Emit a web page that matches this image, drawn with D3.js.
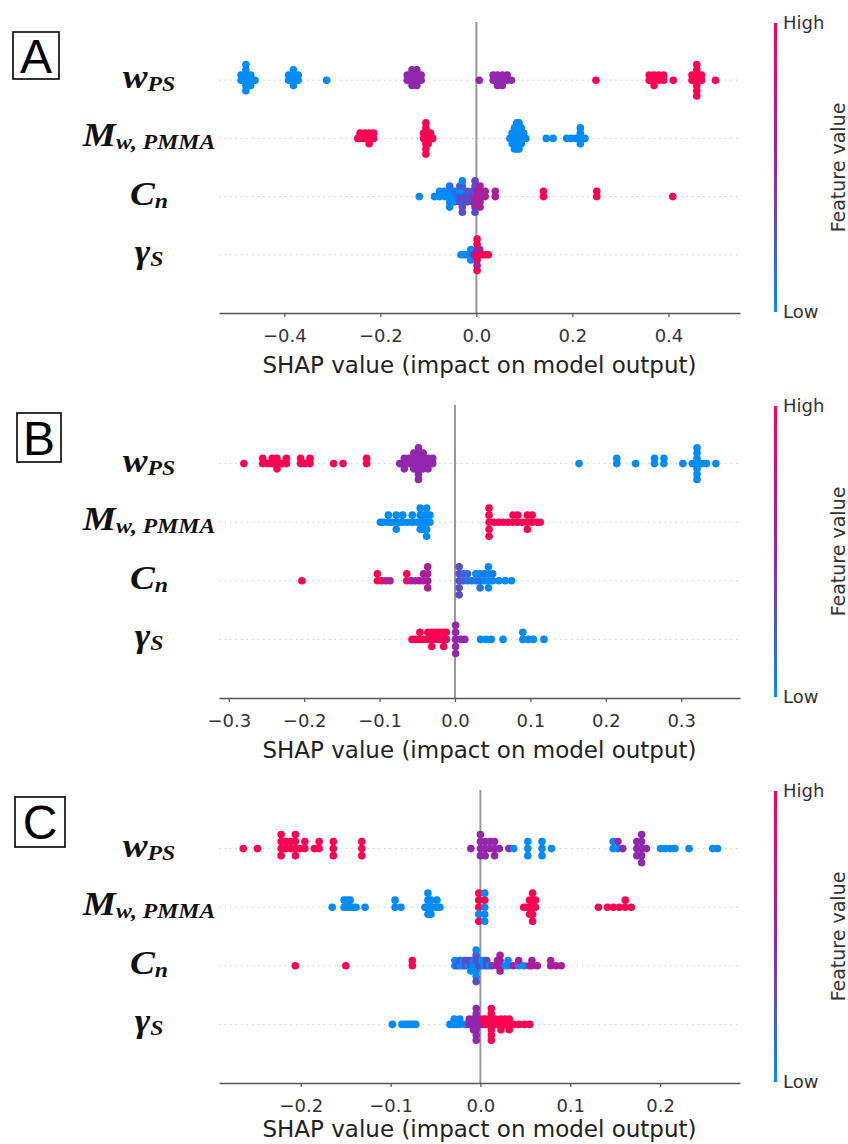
<!DOCTYPE html>
<html lang="en">
<head>
<meta charset="UTF-8">
<title>SHAP summary plots</title>
<script src="https://d3js.org/d3.v7.min.js"></script>
<style>
  body { margin: 0; background: #fff; }
  svg { display: block; }
</style>
</head>
<body>
<div id="chart"></div>
<script>
// feature labels: [main letter, subscript]
const features = [["w", "PS"], ["M", "w, PMMA"], ["C", "n"], ["\u03B3", "S"]];

const ticksA = [-0.4, -0.2, 0.0, 0.2, 0.4];
const ticksB = [-0.3, -0.2, -0.1, 0.0, 0.1, 0.2, 0.3];
const ticksC = [-0.2, -0.1, 0.0, 0.1, 0.2];
const domainA = [-0.536, 0.549];
const domainB = [-0.313, 0.378];
const domainC = [-0.291, 0.289];

// each point: [SHAP value, normalised feature value (0 low .. 1 high)]
// ---- panel A ----
const A_wps = [
  [-.490,0],[-.490,0],
  [-.480,0],[-.480,0],[-.480,0],[-.480,0],[-.480,0],[-.480,0],
  [-.470,0],[-.470,0],[-.470,0],[-.461,0],
  [-.391,0],[-.391,0],[-.381,0],[-.381,0],[-.381,0],[-.381,0],[-.371,0],[-.371,0],
  [-.312,0],
  [-.144,.5],[-.144,.5],[-.134,.5],[-.134,.5],[-.134,.5],[-.134,.5],
  [-.124,.5],[-.124,.5],[-.124,.5],[-.124,.5],[-.115,.5],[-.115,.5],
  [.006,.5],
  [.035,.5],[.035,.5],[.044,.5],[.044,.5],[.044,.5],[.054,.5],[.054,.5],[.054,.5],
  [.064,.5],[.064,.5],[.073,.5],
  [.249,1],
  [.360,1],[.360,1],[.370,1],[.370,1],[.370,1],[.380,1],[.380,1],[.390,1],[.390,1],[.410,1],
  [.449,1],[.449,1],[.459,1],[.459,1],[.459,1],[.459,1],[.459,1],[.459,1],[.459,1],
  [.469,1],[.469,1],[.498,1]
];
const A_mw = [
  [-.247,1],[-.2423,1],[-.2423,1],[-.2375,1],[-.2328,1],[-.2328,1],[-.2281,1],
  [-.2233,1],[-.2233,1],[-.2233,1],[-.2186,1],[-.2139,1],[-.2139,1],
  [-.1098,1],[-.1098,1],
  [-.1051,1],[-.1051,1],[-.1051,1],[-.1051,1],[-.1051,1],[-.1051,1],[-.1051,1],
  [-.1003,1],[-.1003,1],[-.1003,1],[-.0956,1],[-.0956,1],[-.0909,1],
  [.0699,0],[.0746,0],[.0746,0],[.0746,0],
  [.0794,0],[.0794,0],[.0794,0],[.0794,0],[.0794,0],
  [.0841,0],[.0841,0],[.0841,0],[.0841,0],[.0841,0],[.0841,0],
  [.0888,0],[.0888,0],[.0888,0],[.0888,0],[.0888,0],[.0888,0],
  [.0936,0],[.0936,0],[.0936,0],[.0936,0],[.0983,0],[.0983,0],[.1030,0],
  [.1456,0],[.1598,0],
  [.1882,0],[.1976,0],[.2071,0],[.2165,0],[.2165,0],[.2165,0],[.2165,0],[.226,0]
];
const A_cn = [
  [-.119,0],[-.0873,0],[-.0767,0],[-.0767,0],[-.0662,0],[-.0662,0],
  [-.0556,0],[-.0556,0],[-.0556,0],[-.0556,.1],[-.0556,0],
  [-.0451,0],[-.0451,.15],[-.0451,0],[-.0398,.1],
  [-.0345,.25],[-.0345,0],[-.0345,.3],[-.0345,.25],
  [-.0292,.3],[-.0292,0],[-.0292,.3],[-.0292,.25],[-.0292,.3],[-.0292,0],[-.0292,.3],
  [-.0239,.3],[-.0187,.3],[-.0187,.25],[-.0187,.3],[-.0134,.3],
  [-.0081,.35],[-.0081,.3],[-.0081,.35],
  [-.0028,.4],[-.0028,.3],[-.0028,.55],[-.0028,.3],[-.0028,.6],[-.0028,.35],[-.0028,.3],
  [.0024,.6],[.0024,.6],
  [.0077,.6],[.0077,.6],[.0077,.6],[.0077,.6],[.0077,.6],
  [.0130,.55],[.0183,.6],[.0183,.6],[.0394,.6],[.0394,.6],
  [.1398,1],[.1398,1],[.2507,1],[.2507,1],[.409,1]
];
const A_gs = [
  [-.032,0],[-.026,0],[-.020,0],[-.0115,0],[-.0115,0],[-.0115,0],[-.005,.5],
  [.0015,1],[.0015,.55],[.0015,1],[.0015,1],[.0015,.6],[.0015,1],[.0015,1],
  [.007,1],[.007,.6],[.013,1],[.019,1],[.025,1]
];

// ---- panel B ----
const B_wps = [
  [-.280,1],[-.2550,1],[-.2550,1],[-.2487,1],[-.2424,1],[-.2424,1],
  [-.2361,1],[-.2361,1],[-.2361,1],[-.2299,1],[-.2236,1],[-.2236,1],
  [-.2048,1],[-.2048,1],[-.1986,1],[-.1923,1],[-.1923,1],
  [-.1610,1],[-.1485,1],[-.1172,1],[-.1172,1],
  [-.0733,.5],[-.0672,.5],[-.0672,.5],[-.0672,.5],[-.0608,.5],[-.0608,.5],
  [-.0546,.5],[-.0546,.5],[-.0546,.5],[-.0546,.5],
  [-.0484,.5],[-.0484,.5],[-.0484,.5],[-.0484,.5],[-.0484,.5],[-.0484,.5],[-.0484,.5],
  [-.0421,.5],[-.0421,.5],[-.0421,.5],[-.0421,.5],
  [-.0358,.5],[-.0358,.5],[-.0358,.5],[-.0296,.5],[-.0296,.5],
  [.1645,0],[.2145,0],[.2145,0],[.2396,0],[.2646,0],[.2646,0],[.2771,0],[.2771,0],
  [.3022,0],[.3147,0],
  [.3210,0],[.3210,0],[.3210,0],[.3210,0],[.3210,0],[.3210,0],[.3210,0],
  [.3272,0],[.3335,0],[.346,0]
];
const B_mw = [
  [-.099,0],[-.0948,0],[-.0884,0],[-.0884,0],[-.0842,0],
  [-.0779,0],[-.0779,0],[-.0779,0],[-.0736,0],[-.0694,0],[-.0694,0],[-.0630,0],
  [-.0567,0],[-.0567,0],[-.0503,0],
  [-.0461,0],[-.0461,0],[-.0461,0],[-.0461,0],[-.0418,0],[-.0418,0],[-.0418,0],
  [-.0376,0],[-.0376,0],[-.0376,0],[-.0376,0],[-.0376,0],[-.0333,0],[-.0333,0],
  [.0452,1],[.0452,1],[.0452,1],[.0452,1],[.0452,1],
  [.0515,1],[.0579,1],[.0642,1],[.0706,1],[.0770,1],[.0770,1],[.0833,1],[.0833,1],
  [.0897,1],[.0960,1],[.0960,1],[.0960,1],[.1024,1],[.1024,1],[.1088,1],[.113,1]
];
const B_cn = [
  [-.203,1],[-.1029,1],[-.1029,1],[-.0974,1],[-.0918,.6],[-.0862,.6],
  [-.0640,1],[-.0640,1],[-.0584,.6],[-.0529,.6],[-.0473,.6],[-.0418,.6],[-.0418,.6],
  [-.0362,.6],[-.0362,.6],[-.0362,.6],[-.0362,.6],
  [.0055,.3],[.0055,.3],[.0055,.3],[.0055,.3],[.0055,.3],
  [.0111,.25],[.0111,.2],[.0166,.1],[.0166,.2],[.0222,.1],[.0277,.1],[.0277,0],
  [.0333,.15],[.0333,0],[.0333,.1],[.0389,0],[.0389,.1],
  [.0444,0],[.0444,0],[.0444,0],[.0444,0],[.0500,0],[.0500,.1],
  [.0583,0],[.0667,0],[.075,0]
];
const B_gs = [
  [-.0570,1],[-.0518,1],[-.0465,1],[-.0465,1],[-.0413,1],[-.0360,1],[-.0360,1],
  [-.0308,1],[-.0308,1],[-.0308,1],[-.0255,1],[-.0255,1],[-.0203,1],[-.0203,1],
  [-.0150,1],[-.0150,1],[-.0150,1],[-.0115,.85],[-.0115,1],
  [.0008,.5],[.0008,.5],[.0008,.5],[.0008,.5],[.0008,.5],[.0078,.5],[.0130,.5],
  [.0340,0],[.0410,0],[.0480,0],[.0638,0],[.0900,0],[.0900,0],[.0970,0],[.1040,0],[.1180,0]
];

// ---- panel C ----
const C_wps = [
  [-.2640,1],[-.2482,1],
  [-.2218,1],[-.2218,1],[-.2218,1],[-.2218,1],[-.2165,1],[-.2165,1],[-.2112,1],[-.2112,1],
  [-.2059,1],[-.2059,1],[-.2059,1],[-.2059,1],[-.2006,1],[-.1954,1],[-.1954,1],
  [-.1848,1],[-.1795,1],[-.1795,1],[-.1637,1],[-.1637,1],[-.1637,1],
  [-.1320,1],[-.1320,1],[-.1320,1],
  [-.0106,.5],[.0000,.5],[.0000,.5],[.0000,.5],[.0000,.5],
  [.0053,.5],[.0053,.5],[.0053,.5],[.0106,.5],[.0106,.5],
  [.0158,.5],[.0158,.5],[.0158,.5],[.0211,.5],[.0317,.5],
  [.0370,0],[.0528,0],[.0528,0],[.0528,0],[.0686,0],[.0686,0],[.0686,0],[.0792,0],
  [.1478,0],[.1478,0],[.1531,0],[.1531,.5],[.1584,.5],
  [.1742,.5],[.1742,.5],[.1742,.5],[.1795,.5],[.1795,.5],[.1795,.5],[.1795,.5],[.1795,.5],
  [.1848,.5],
  [.2006,0],[.2059,0],[.2112,0],[.2165,0],[.2323,0],[.2587,0],[.2640,0]
];
const C_mw = [
  [-.1650,0],[-.1517,0],[-.1517,0],[-.1483,0],[-.1483,0],[-.1450,0],[-.1450,0],
  [-.1417,0],[-.1384,0],[-.1284,0],
  [-.0950,0],[-.0950,0],[-.0884,0],
  [-.0617,0],[-.0584,0],[-.0584,0],[-.0584,0],[-.0584,0],
  [-.0551,0],[-.0551,0],[-.0551,0],[-.0517,0],[-.0484,0],[-.0484,0],[-.0451,0],
  [-.0018,1],[-.0018,1],[-.0018,0],[-.0018,1],[-.0018,1],
  [.0048,0],[.0048,1],[.0048,0],[.0048,0],[.0048,0],
  [.0482,1],[.0515,1],[.0548,1],[.0548,1],[.0548,1],
  [.0581,1],[.0581,1],[.0581,1],[.0581,1],[.0581,1],[.0614,1],[.0614,1],
  [.1314,1],[.1414,1],[.1480,1],[.1547,1],[.1613,1],[.1613,1],[.1680,1]
];
const C_cn = [
  [-.2060,1],[-.1498,1],[-.0758,1],[-.0758,1],
  [-.0284,0],[-.0284,0],[-.0254,.3],[-.0225,0],[-.0225,.3],[-.0195,0],[-.0195,0],
  [-.0166,.3],[-.0166,.3],[-.0136,0],[-.0136,.3],[-.0106,.3],[-.0106,.3],[-.0106,0],
  [-.0077,0],[-.0077,0],
  [-.0047,0],[-.0047,.3],[-.0047,0],[-.0047,.3],[-.0047,0],[-.0047,0],[-.0047,.3],
  [-.0018,.3],[-.0018,.3],[.0012,.3],[.0012,0],[.0042,0],[.0042,0],
  [.0071,.35],[.0071,.35],[.0101,0],[.0130,.4],
  [.0190,.6],[.0190,.6],[.0219,.6],[.0219,.6],[.0219,.6],[.0219,.6],
  [.0278,0],[.0308,0],[.0308,0],[.0367,.6],[.0426,0],[.0426,.6],[.0486,0],
  [.0545,.6],[.0574,.6],[.0574,.6],[.0634,.6],
  [.0782,.6],[.0782,.6],[.0841,.6],[.0900,.6]
];
const C_gs = [
  [-.0980,0],[-.0873,0],[-.0842,0],[-.0812,0],[-.0781,0],[-.0750,0],[-.0720,0],
  [-.0338,0],[-.0292,0],[-.0292,0],[-.0261,0],[-.0230,0],[-.0230,0],[-.0169,0],
  [-.0123,.5],[-.0123,.5],[-.0077,.5],[-.0077,.5],[-.0077,.5],
  [-.0046,.5],[-.0046,.5],[-.0046,.5],[-.0046,.5],[-.0046,.5],[-.0046,.5],[-.0046,.5],
  [-.0016,.5],[-.0016,.5],[.0030,.5],[.0030,1],[.0061,1],[.0061,1],
  [.0122,1],[.0122,1],[.0122,1],[.0122,1],[.0122,1],[.0122,1],[.0122,1],
  [.0168,1],[.0168,1],[.0229,1],[.0229,1],[.0229,1],[.0275,1],[.0275,1],
  [.0321,1],[.0321,1],[.0321,1],[.0367,1],[.0428,1],[.0489,1],[.0550,1]
];

const W = 848, H = 1144;
const X0 = 219, X1 = 740;

const panels = [
  {label: "A", rows: [A_wps, A_mw, A_cn, A_gs], domain: domainA, ticks: ticksA, top: 22, axisY: 313, labelDy: 60, box: [13, 32, 46, 47]},
  {label: "B", rows: [B_wps, B_mw, B_cn, B_gs], domain: domainB, ticks: ticksB, top: 405, axisY: 698, labelDy: 60, box: [17, 413, 44, 49]},
  {label: "C", rows: [C_wps, C_mw, C_cn, C_gs], domain: domainC, ticks: ticksC, top: 790, axisY: 1083, labelDy: 54, box: [15, 797, 50, 50]}
];

const color = d3.scaleLinear().domain([0, 0.5, 1]).range(["#008bfb", "#9226ad", "#ff0052"]);

// beeswarm offsets, same binning as shap's summary plot
function swarm(rows) {
  const vals = rows.map(d => d[0]);
  const lo = d3.min(vals), hi = d3.max(vals);
  const quant = vals.map(v => Math.round(100 * (v - lo) / (hi - lo + 1e-8)));
  const order = d3.range(rows.length).sort((a, b) => quant[a] - quant[b] || a - b);
  const ys = new Array(rows.length).fill(0);
  let layer = 0, last = -1;
  order.forEach(i => {
    if (quant[i] !== last) layer = 0;
    ys[i] = Math.ceil(layer / 2) * ((layer % 2) * 2 - 1);
    layer++;
    last = quant[i];
  });
  const m = d3.max(ys, y => y + 1);
  return ys.map(y => y * 0.9 * 0.4 / m);
}

const svg = d3.select("#chart").append("svg")
  .attr("width", W).attr("height", H);

const defs = svg.append("defs");
const grad = defs.append("linearGradient").attr("id", "cbar")
  .attr("x1", 0).attr("y1", 1).attr("x2", 0).attr("y2", 0);
d3.range(0, 1.01, 0.1).forEach(t => {
  grad.append("stop").attr("offset", t).attr("stop-color", color(t));
});

panels.forEach(p => {
  const g = svg.append("g");
  const x = d3.scaleLinear().domain(p.domain).range([X0, X1]);
  const y = d3.scaleLinear().domain([-1, 4]).range([p.axisY, p.top]);

  // dotted row guides
  p.rows.forEach((r, i) => {
    g.append("line")
      .attr("x1", X0).attr("x2", X1)
      .attr("y1", y(3 - i)).attr("y2", y(3 - i))
      .attr("stroke", "#cccccc").attr("stroke-width", 1)
      .attr("stroke-dasharray", "1.5,4");
  });

  // zero line
  g.append("line")
    .attr("x1", x(0)).attr("x2", x(0))
    .attr("y1", p.top).attr("y2", p.axisY)
    .attr("stroke", "#999").attr("stroke-width", 2);

  // points
  p.rows.forEach((r, i) => {
    const off = swarm(r);
    g.append("g").selectAll("circle")
      .data(r)
      .join("circle")
      .attr("cx", d => x(d[0]))
      .attr("cy", (d, j) => y(3 - i + off[j]))
      .attr("r", 3.8)
      .attr("fill", d => color(d[1]));
  });

  // feature labels (slightly stretched horizontally like the original)
  features.forEach((f, i) => {
    const t = g.append("text")
      .attr("transform", `translate(149,${y(3 - i) + 8}) scale(1.13,1)`)
      .attr("text-anchor", "middle")
      .attr("font-family", "'Liberation Serif', 'Times New Roman', serif")
      .attr("font-style", "italic").attr("font-weight", "bold")
      .attr("fill", "#111");
    t.append("tspan").attr("font-size", 33).text(f[0]);
    t.append("tspan").attr("font-size", 21).attr("dy", 3).text(f[1]);
  });

  // x axis
  const ax = g.append("g")
    .attr("transform", `translate(0,${p.axisY})`)
    .call(d3.axisBottom(x).tickValues(p.ticks).tickFormat(d3.format(".1f"))
      .tickSize(4).tickSizeOuter(0).tickPadding(12));
  ax.select(".domain").attr("stroke", "#555").attr("stroke-width", 1.5);
  ax.selectAll(".tick line").attr("stroke", "#555").attr("stroke-width", 1.2);
  ax.selectAll(".tick text")
    .attr("font-family", "'DejaVu Sans', sans-serif")
    .attr("font-size", 18).attr("fill", "#333");

  g.append("text")
    .attr("x", (X0 + X1) / 2).attr("y", p.axisY + p.labelDy)
    .attr("text-anchor", "middle")
    .attr("font-family", "'DejaVu Sans', sans-serif")
    .attr("font-size", 23).attr("fill", "#222")
    .text("SHAP value (impact on model output)");

  // colour bar
  const cTop = p.top + 1, cBot = p.axisY - 1;
  g.append("rect")
    .attr("x", 774).attr("y", cTop)
    .attr("width", 3).attr("height", cBot - cTop)
    .attr("fill", "url(#cbar)");
  g.append("text").attr("x", 783).attr("y", cTop).attr("dy", "0.35em")
    .attr("font-family", "'DejaVu Sans', sans-serif").attr("font-size", 18)
    .attr("fill", "#333").text("High");
  g.append("text").attr("x", 783).attr("y", cBot).attr("dy", "0.35em")
    .attr("font-family", "'DejaVu Sans', sans-serif").attr("font-size", 18)
    .attr("fill", "#333").text("Low");
  g.append("text")
    .attr("transform", `translate(838,${(cTop + cBot) / 2}) rotate(-90)`)
    .attr("text-anchor", "middle").attr("dy", "0.35em")
    .attr("font-family", "'DejaVu Sans', sans-serif").attr("font-size", 19)
    .attr("fill", "#333").text("Feature value");

  // panel letter box
  const [bx, by, bw, bh] = p.box;
  g.append("rect")
    .attr("x", bx).attr("y", by).attr("width", bw).attr("height", bh)
    .attr("fill", "none").attr("stroke", "#000").attr("stroke-width", 1.6);
  g.append("text")
    .attr("x", bx + bw / 2).attr("y", by + bh / 2 + 17)
    .attr("text-anchor", "middle")
    .attr("font-family", "'Liberation Sans', Arial, sans-serif")
    .attr("font-size", 48).attr("fill", "#000")
    .text(p.label);
});
</script>
</body>
</html>
